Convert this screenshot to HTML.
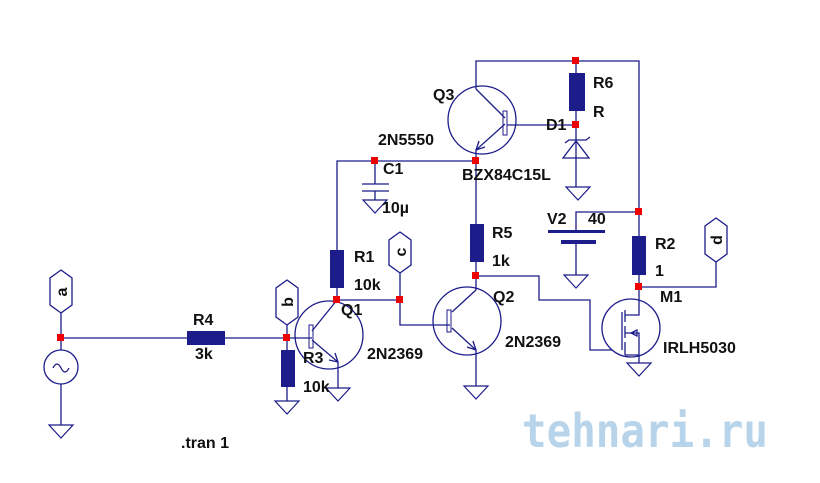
<!DOCTYPE html>
<html><head><style>
body{margin:0;background:#fff;}
svg{display:block;}
text{font-family:"Liberation Sans",Arial,sans-serif;font-weight:bold;font-size:16px;fill:#111;}
</style></head><body>
<svg width="820" height="483" viewBox="0 0 820 483" xmlns="http://www.w3.org/2000/svg">
<defs>
<g id="gnd"><path d="M-12 0H12L0 13Z" fill="none" stroke="#1c1c8a" stroke-width="1.2"/></g>
</defs>
<g fill="none" stroke="#1c1c8a" stroke-width="1.3">
<path d="M476 89V61H639V287"/>
<path d="M576 61V160M576 160V187"/>
<path d="M507 125H576"/>
<path d="M565 143L569 140H586L590 137M576 141L563 158H589Z"/>
<circle cx="482" cy="120" r="34"/>
<path d="M476 89L505 118M505 124L476 150V161"/>
<path d="M476 150l3 -9M476 150l9 -3"/>
<path d="M337 300V161H476"/>
<path d="M375 161V184M362 184H389M362 191H389M375 191V200"/>
<path d="M476 161V290"/>
<circle cx="467" cy="321" r="34"/>
<path d="M400 300V325H450M476 290L452 312M452 328L476 350V386"/>
<path d="M476 350l-3 -9M476 350l-9 -3"/>
<path d="M476 276H539V300H590V350H612"/>
<path d="M337 300H400V273"/>
<path d="M576 232V212H639M576 242V275"/>
<path d="M639 287H716V262"/>
<circle cx="631" cy="328" r="29"/>
<path d="M639 287V315H625M622 312V350M625 310V322M625 326V338M625 342V355M625 333H639V355H625M639 355V363M631 333l6 -3v6z"/>
<path d="M61 313V350M61 384V425M61 338H287V350M287 325V338H312"/>
<circle cx="61" cy="367" r="17"/>
<path d="M53 368q4 -8 8 0t8 0"/>
<circle cx="329" cy="335" r="34"/>
<path d="M337 300L312 331M312 340L338 362V388"/>
<path d="M338 362l-3 -9M338 362l-9 -2"/>
<path d="M287 387V401"/>
<path d="M61 270L72 278V305L61 313L50 305V278Z"/>
<path d="M287 280L298 288V317L287 325L276 317V288Z"/>
<path d="M400 232L411 240V265L400 273L389 265V240Z"/>
<path d="M716 218L727 226V254L716 262L705 254V226Z"/>
<rect x="503" y="111" width="4" height="24" stroke-width="1"/>
<rect x="447" y="310" width="4" height="22" stroke-width="1"/>
<rect x="309" y="325" width="4" height="23" stroke-width="1"/>
</g>
<g fill="#1c1c8a">
<rect x="569" y="73" width="16" height="38"/>
<rect x="470" y="224" width="14" height="38"/>
<rect x="330" y="250" width="14" height="38"/>
<rect x="632" y="236" width="14" height="39"/>
<rect x="281" y="350" width="14" height="37"/>
<rect x="187" y="331" width="38" height="14"/>
<rect x="548" y="230" width="57" height="3"/>
<rect x="561" y="240" width="35" height="4"/>
</g>
<use href="#gnd" x="578" y="187"/>
<use href="#gnd" x="375" y="200"/>
<use href="#gnd" x="476" y="386"/>
<use href="#gnd" x="576" y="275"/>
<use href="#gnd" x="639" y="363"/>
<use href="#gnd" x="61" y="425"/>
<use href="#gnd" x="287" y="401"/>
<use href="#gnd" x="338" y="388"/>
<g fill="#e00">
<rect x="572" y="57" width="7" height="7"/><rect x="572" y="121" width="7" height="7"/>
<rect x="472" y="157" width="7" height="7"/><rect x="371" y="157" width="7" height="7"/>
<rect x="472" y="272" width="7" height="7"/><rect x="635" y="208" width="7" height="7"/>
<rect x="635" y="283" width="7" height="7"/><rect x="333" y="296" width="7" height="7"/>
<rect x="396" y="296" width="7" height="7"/><rect x="57" y="334" width="7" height="7"/>
<rect x="283" y="334" width="7" height="7"/>
</g>
<text x="433" y="100">Q3</text><text x="378" y="145">2N5550</text>
<text x="593" y="88">R6</text><text x="593" y="117">R</text>
<text x="546" y="130">D1</text><text x="462" y="180">BZX84C15L</text>
<text x="383" y="174">C1</text><text x="382" y="213">10µ</text>
<text x="547" y="224">V2</text><text x="588" y="224">40</text>
<text x="492" y="238">R5</text><text x="492" y="266">1k</text>
<text x="655" y="249">R2</text><text x="655" y="276">1</text>
<text x="493" y="302">Q2</text><text x="505" y="347">2N2369</text>
<text x="660" y="302">M1</text><text x="663" y="353">IRLH5030</text>
<text x="354" y="262">R1</text><text x="354" y="290">10k</text>
<text x="341" y="315">Q1</text><text x="367" y="359">2N2369</text>
<text x="303" y="363">R3</text><text x="303" y="392">10k</text>
<text x="193" y="325">R4</text><text x="195" y="359">3k</text>
<text x="181" y="448">.tran 1</text>
<text transform="translate(67 292) rotate(-90)" text-anchor="middle">a</text>
<text transform="translate(293 302) rotate(-90)" text-anchor="middle">b</text>
<text transform="translate(406 252) rotate(-90)" text-anchor="middle">c</text>
<text transform="translate(722 240) rotate(-90)" text-anchor="middle">d</text>
<text x="522" y="447" textLength="246" lengthAdjust="spacingAndGlyphs" style="font-size:46px;fill:#b8d4ea;font-family:'DejaVu Sans Mono',monospace">tehnari.ru</text>
</svg>
</body></html>
